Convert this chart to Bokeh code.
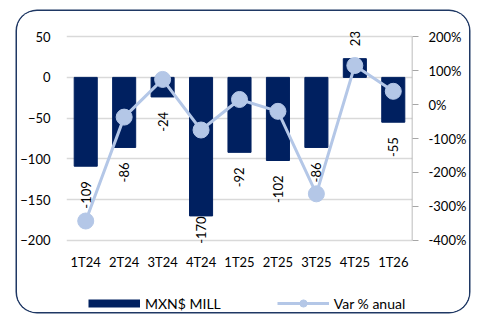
import math
from bokeh.plotting import figure
from bokeh.layouts import column
from bokeh.models import (Range1d, LinearAxis, FixedTicker, PrintfTickFormatter,
                          ColumnDataSource, Legend, LegendItem, FactorRange, LabelSet)
from bokeh.core.properties import value
from bokeh.embed import file_html
from bokeh.resources import INLINE

categories = ["1T24", "2T24", "3T24", "4T24", "1T25", "2T25", "3T25", "4T25", "1T26"]
mxn_mill = [-109, -86, -24, -170, -92, -102, -86, 23, -55]
var_anual = [-343, -37, 74, -75, 15, -20, -263, 115, 39]
left_ticks = [-200, -150, -100, -50, 0, 50]
right_ticks = [-400, -300, -200, -100, 0, 100, 200]

NAVY = "#002060"
LIGHT = "#B4C7E7"
FONT = "Lato"

W, H = 452, 264
ml, mt, mr, mb = 49, 17, 55, 27
PAD = 10  # extra room (in left-axis units) so data labels are not clipped
frame_h_core = 204
ppu = frame_h_core / 250.0

p = figure(x_range=FactorRange(*categories, range_padding=0),
           y_range=Range1d(left_ticks[0] - PAD, left_ticks[-1] + PAD),
           width=W, height=H, output_backend="svg", toolbar_location=None,
           min_border_left=ml, min_border_right=mr, min_border_top=mt,
           min_border_bottom=mb, outline_line_color=None)
k = (right_ticks[-1] - right_ticks[0]) / (left_ticks[-1] - left_ticks[0])
p.extra_y_ranges = {"pct": Range1d(right_ticks[0] - PAD * k, right_ticks[-1] + PAD * k)}

src = ColumnDataSource(dict(cat=categories, v=mxn_mill, pct=var_anual))
p.vbar(x="cat", top="v", bottom=0, width=0.6, source=src, color=NAVY)

# visible right axis line, limited to the axis' tick span
p.segment(x0=[len(categories)], x1=[len(categories)], y0=[right_ticks[0]], y1=[right_ticks[-1]],
          y_range_name="pct", line_color="#A6A6A6", line_width=1.5)

p.line(x="cat", y="pct", source=src, y_range_name="pct", line_color=LIGHT, line_width=3)
p.scatter(x="cat", y="pct", source=src, y_range_name="pct", size=16, color=LIGHT)

# data labels (rotated)
neg = dict(cat=[], y=[], off=[], t=[])
pos = dict(cat=[], y=[], off=[], t=[])
for c, v in zip(categories, mxn_mill):
    t = str(v)
    L = len(t) * 7
    if v < 0:
        end_px = (left_ticks[-1] - v) * ppu
        a = end_px + 15
        if a + L > frame_h_core + 4:
            a = frame_h_core + 4 - L
        d = neg
        d["off"].append(-(a - end_px))
    else:
        d = pos
        d["off"].append(12.5)
    d["cat"].append(c)
    d["y"].append(v)
    d["t"].append(t)

for d, al in ((neg, "right"), (pos, "left")):
    p.add_layout(LabelSet(x="cat", y="y", text="t", y_offset="off",
                          source=ColumnDataSource(d), angle=math.pi / 2,
                          text_align=al, text_baseline="middle",
                          text_font=value(FONT), text_font_size="13px",
                          text_color="#000000"))

# axes
p.yaxis.ticker = FixedTicker(ticks=left_ticks)
p.yaxis.axis_line_color = None
p.yaxis.major_tick_line_color = None
p.yaxis.major_tick_out = 0
p.yaxis.major_tick_in = 0
p.yaxis.minor_tick_line_color = None
p.yaxis.major_label_standoff = 16
p.yaxis.major_label_text_font = FONT
p.yaxis.major_label_text_font_size = "13px"
p.yaxis.major_label_text_color = "#000000"

p.xaxis.axis_line_color = None
p.xaxis.major_tick_line_color = None
p.xaxis.major_tick_out = 0
p.xaxis.major_tick_in = 0
p.xaxis.minor_tick_line_color = None
p.xaxis.major_label_standoff = 5
p.xaxis.major_label_text_font = FONT
p.xaxis.major_label_text_font_size = "13px"
p.xaxis.major_label_text_color = "#000000"

ra = LinearAxis(y_range_name="pct", ticker=FixedTicker(ticks=right_ticks),
                formatter=PrintfTickFormatter(format="%d%%"))
ra.axis_line_color = None
ra.major_tick_line_color = "#A6A6A6"
ra.major_tick_in = 0
ra.major_tick_out = 6
ra.minor_tick_line_color = None
ra.major_label_standoff = 10
ra.major_label_text_font = FONT
ra.major_label_text_font_size = "13px"
ra.major_label_text_color = "#000000"
p.add_layout(ra, "right")

p.xgrid.grid_line_color = None
p.ygrid.ticker = FixedTicker(ticks=left_ticks)
p.ygrid.grid_line_color = "#D9D9D9"
p.ygrid.grid_line_width = 1.5

# legend strip (separate small figure; its frame is aligned with the main frame)
p2 = figure(width=W, height=37, output_backend="svg", toolbar_location=None,
            x_range=Range1d(0, 1), y_range=Range1d(0, 1),
            x_axis_location=None, y_axis_location=None, min_border=0,
            outline_line_color=None)
p2.grid.grid_line_color = None
dummy = ColumnDataSource(dict(x=[float("nan")], y=[float("nan")]))
r_bar = p2.line(x="x", y="y", source=dummy, line_color=NAVY, line_width=8, line_cap="butt")
r_l = p2.line(x="x", y="y", source=dummy, line_color=LIGHT, line_width=3)
r_m = p2.scatter(x="x", y="y", source=dummy, color=LIGHT)
legend = Legend(items=[LegendItem(label="MXN$ MILL", renderers=[r_bar]),
                       LegendItem(label="Var % anual", renderers=[r_l, r_m])],
                orientation="horizontal", location=(22, 0),
                glyph_width=52, glyph_height=18, label_height=18,
                label_standoff=5, spacing=56, padding=0, margin=0,
                border_line_color=None, background_fill_alpha=0,
                label_text_font=FONT, label_text_font_size="14px",
                label_text_color="#000000")
p2.add_layout(legend, "center")

lay = column(p, p2, spacing=0)
lay.margin = (11, 0, 0, 17)
lay.styles = {"box-shadow": "0 0 0 1.5px #1F3864", "border-radius": "20px",
              "overflow": "hidden"}

open("out.html", "w").write(file_html(lay, INLINE))
